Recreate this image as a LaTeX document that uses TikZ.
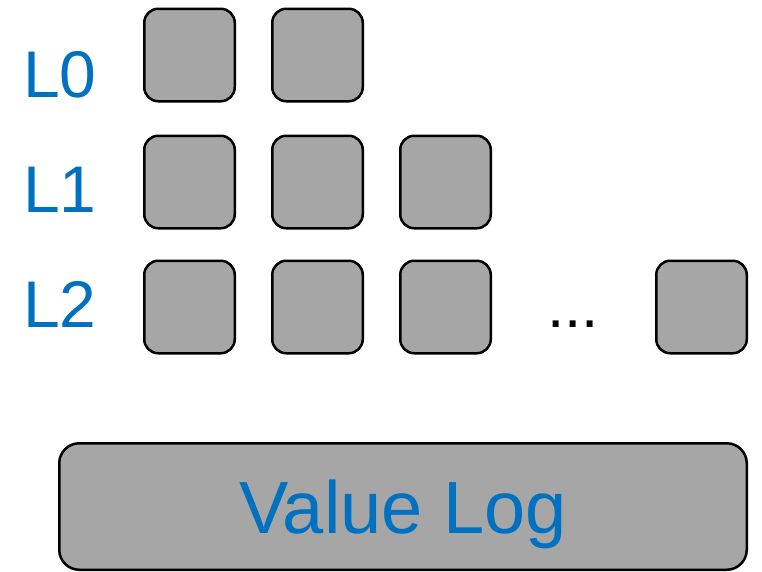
\documentclass[tikz,border=0pt]{standalone}
\usepackage{fontspec}
\setmainfont{Liberation Sans}
\usepackage{tikz}
\usetikzlibrary{positioning}
\definecolor{lvlblue}{HTML}{0070C0}
\definecolor{filegray}{HTML}{A6A6A6}

\begin{document}
\begin{tikzpicture}[x=1pt,y=-1pt,node distance=128pt,line width=2.5pt,
  file node/.style={rectangle,rounded corners=14pt,fill=filegray,draw=black,
    minimum width=90.5pt,minimum height=92.5pt,inner sep=0pt},
  log node/.style={rectangle,rounded corners=20pt,fill=filegray,draw=black,
    minimum width=687.5pt,minimum height=126.5pt,inner sep=0pt,text=lvlblue,
    text depth=0pt,font=\fontsize{74}{74}\selectfont},
  level node/.style={anchor=base west,inner sep=0pt,text=lvlblue,
    font=\fontsize{66}{66}\selectfont}]
  \useasboundingbox (0,0) rectangle (762,571);
  % levels
  \node[level node] (l0) at (22,97) {L0};
  \node[level node] (l1) at (22,212) {L1};
  \node[level node] (l2) at (22,327) {L2};
  % files
  \node[file node] (a1) at (189.5,55) {};
  \node[file node] (a2) [right of=a1] {};
  \node[file node] (b1) [below of=a1,node distance=127pt] {};
  \node[file node] (b2) [right of=b1] {};
  \node[file node] (b3) [right of=b2] {};
  \node[file node] (c1) [below of=b1,node distance=125pt] {};
  \node[file node] (c2) [right of=c1] {};
  \node[file node] (c3) [right of=c2] {};
  \node[anchor=base,inner sep=0pt,font=\fontsize{62}{62}\selectfont] (dots) at (573,327) {...};
  \node[file node] (cn) [right of=c3,node distance=256pt] {};
  % value log
  \node[log node] (vlog) at (403,506.5) {Value Log};
\end{tikzpicture}
\end{document}
